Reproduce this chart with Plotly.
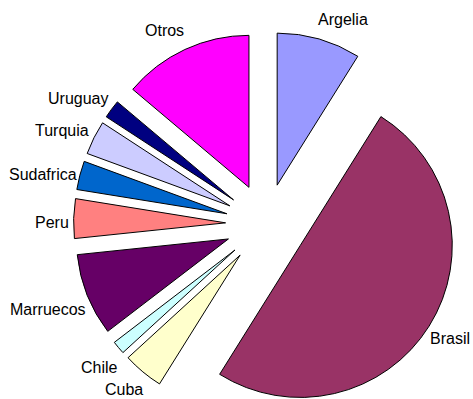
import plotly.graph_objects as go

# Share of each origin (percent), clockwise from 12 o'clock
paises = ["Argelia", "Brasil", "Cuba", "Chile", "Marruecos",
          "Peru", "Sudafrica", "Turquia", "Uruguay", "Otros"]
participacion = [8.9, 50.0, 4.3, 1.4, 8.75, 4.2, 3.05, 3.6, 1.95, 13.85]
colores = ["#9999FF", "#993366", "#FFFFCC", "#CCFFFF", "#660066",
           "#FF8080", "#0066CC", "#CCCCFF", "#000080", "#FF00FF"]

W, H = 473, 417
cx, cy = 266, 224          # pie centre in pixels
radio, separacion = 152, 0.266
caja = radio * (1 + separacion)

# label anchor points (pixels) and horizontal anchoring around the exploded pie
pos_etiquetas = [(343, 19), (471, 338), (124, 389), (99, 367), (48, 309),
                 (52, 222), (43, 174), (62, 130), (78, 99), (164, 30)]
anclas = ["center", "right", "center", "center", "center",
          "center", "center", "center", "center", "center"]

fig = go.Figure(go.Pie(
    labels=paises,
    values=participacion,
    sort=False,
    direction="clockwise",
    rotation=0,
    pull=[separacion] * len(paises),
    marker=dict(colors=colores, line=dict(color="black", width=1)),
    textinfo="none",
    showlegend=False,
    hoverinfo="label+percent",
    domain=dict(x=[(cx - caja) / W, (cx + caja) / W],
                y=[(H - cy - caja) / H, (H - cy + caja) / H]),
))

fuente = dict(family="Liberation Sans, Arial, sans-serif", size=16, color="black")
for nombre, (px, py), ancla in zip(paises, pos_etiquetas, anclas):
    fig.add_annotation(text=nombre, x=px / W, y=1 - py / H, xref="paper", yref="paper",
                       xanchor=ancla, yanchor="middle", showarrow=False, font=fuente,
                       borderpad=0)

fig.update_layout(
    width=W, height=H,
    margin=dict(l=0, r=0, t=0, b=0),
    paper_bgcolor="white",
    plot_bgcolor="white",
)

fig.write_html("out.html")
